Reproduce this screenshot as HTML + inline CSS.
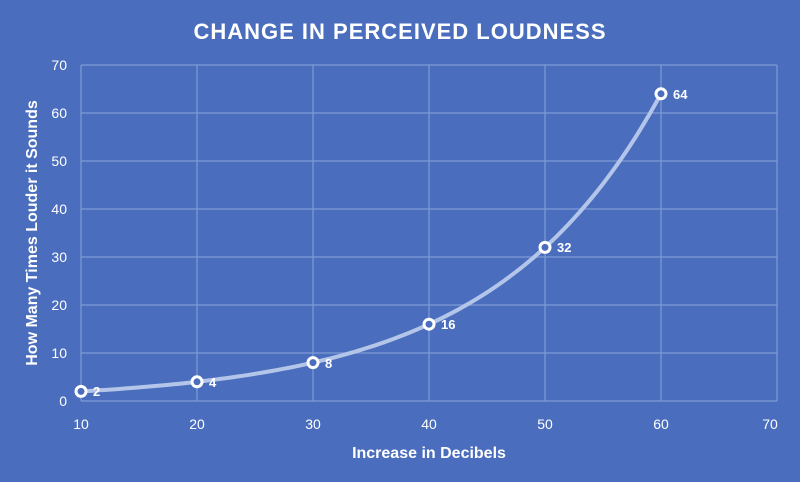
<!DOCTYPE html><html><head><style>body{margin:0;background:#4a6ebd}svg{display:block}text{font-family:"Liberation Sans",sans-serif;fill:#fff}</style></head><body>
<svg width="800" height="482" xmlns="http://www.w3.org/2000/svg">
<rect width="800" height="482" fill="#4a6ebd"/>
<text x="400" y="39" text-anchor="middle" font-size="22" font-weight="bold" letter-spacing="1">CHANGE IN PERCEIVED LOUDNESS</text>
<g stroke="#7f9ad6" stroke-width="1.2" fill="none">
<line x1="81" y1="65" x2="777" y2="65"/><line x1="81" y1="113" x2="777" y2="113"/><line x1="81" y1="161" x2="777" y2="161"/><line x1="81" y1="209" x2="777" y2="209"/><line x1="81" y1="257" x2="777" y2="257"/><line x1="81" y1="305" x2="777" y2="305"/><line x1="81" y1="353" x2="777" y2="353"/><line x1="81" y1="401" x2="777" y2="401"/>
<line x1="81" y1="65" x2="81" y2="401"/><line x1="197" y1="65" x2="197" y2="401"/><line x1="313" y1="65" x2="313" y2="401"/><line x1="429" y1="65" x2="429" y2="401"/><line x1="545" y1="65" x2="545" y2="401"/><line x1="661" y1="65" x2="661" y2="401"/><line x1="777" y1="65" x2="777" y2="401"/>
</g>
<g font-size="14" fill="#e6ecf8" text-anchor="end">
<text x="67" y="70">70</text><text x="67" y="118">60</text><text x="67" y="166">50</text><text x="67" y="214">40</text><text x="67" y="262">30</text><text x="67" y="310">20</text><text x="67" y="358">10</text><text x="67" y="406">0</text>
</g>
<g font-size="14" text-anchor="middle" fill="#e6ecf8">
<text x="81" y="429">10</text><text x="197" y="429">20</text><text x="313" y="429">30</text><text x="429" y="429">40</text><text x="545" y="429">50</text><text x="661" y="429">60</text><text x="770" y="429">70</text>
</g>
<text x="429" y="458" text-anchor="middle" font-size="16" font-weight="bold">Increase in Decibels</text>
<text transform="translate(37,233) rotate(-90)" text-anchor="middle" font-size="16" font-weight="bold">How Many Times Louder it Sounds</text>
<polyline id="c" fill="none" stroke="#b4c5ea" stroke-width="4" stroke-linecap="round" points=""/>
<g fill="#4a6ebd" stroke="#fff" stroke-width="3">
<circle cx="81" cy="391.4" r="5"/><circle cx="197" cy="381.8" r="5"/><circle cx="313" cy="362.6" r="5"/><circle cx="429" cy="324.2" r="5"/><circle cx="545" cy="247.4" r="5"/><circle cx="661" cy="93.8" r="5"/>
</g>
<g font-size="13" font-weight="bold">
<text x="93" y="396">2</text><text x="209" y="387">4</text><text x="325" y="368">8</text><text x="441" y="329">16</text><text x="557" y="252">32</text><text x="673" y="99">64</text>
</g>
</svg>
<script>
var p=[];for(var i=0;i<=100;i++){var x=10+50*i/100;var v=Math.pow(2,x/10);p.push((81+(x-10)*11.6).toFixed(1)+","+(401-v*4.8).toFixed(1));}
document.getElementById("c").setAttribute("points",p.join(" "));
</script>
</body></html>
